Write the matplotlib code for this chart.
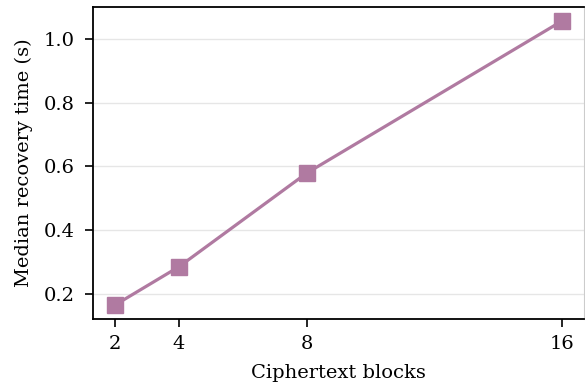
import matplotlib.pyplot as plt

plt.rcParams['font.family'] = 'DejaVu Serif'

blocks = [2, 4, 8, 16]
median_time = [0.165, 0.285, 0.579, 1.057]

fig = plt.figure(figsize=(5.85, 3.87), dpi=100)
ax = fig.add_axes([93 / 585, 68 / 387, 491 / 585, 312 / 387])

ax.plot(blocks, median_time, color='#b07aa1', linewidth=2.3,
        marker='s', markersize=12)

ax.set_xticks(blocks)
ax.set_xlabel('Ciphertext blocks', fontsize=14, labelpad=8)
ax.set_ylabel('Median recovery time (s)', fontsize=14, labelpad=8)
ax.tick_params(labelsize=14, width=1.2, length=5.5)
ax.tick_params(axis='x', pad=6)
ax.tick_params(axis='y', pad=7.5)
ax.yaxis.grid(True, color='#e6e6e6', linewidth=1)
ax.set_axisbelow(True)
for side in ['left', 'bottom', 'top']:
    ax.spines[side].set_linewidth(1.3)
ax.spines['right'].set_color('#cccccc')

fig.savefig('out.png', dpi=100)
